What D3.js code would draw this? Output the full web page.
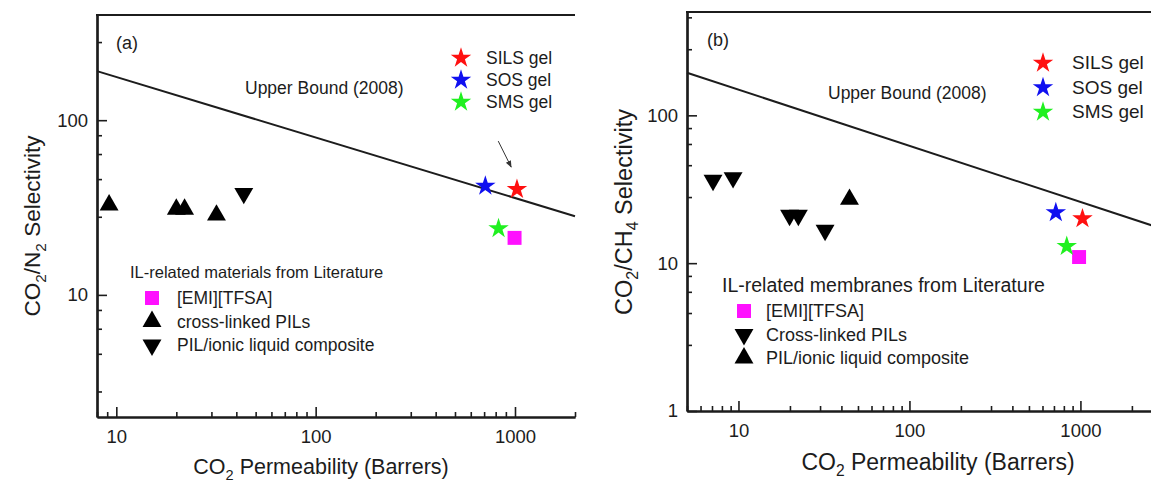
<!DOCTYPE html>
<html>
<head>
<meta charset="utf-8">
<script src="https://cdn.jsdelivr.net/npm/d3@7"></script>
<style>
  html, body { margin: 0; padding: 0; background: #fff; }
  svg { display: block; }
</style>
</head>
<body>
<svg id="chart" width="1151" height="483"></svg>
<script>
// ---------- data ----------
const gelNames = ["SILS gel", "SOS gel", "SMS gel"];

// (a) CO2/N2 separation
const gelPermA = [1023, 710, 827];
const gelSelA = [40.2, 42.0, 24.0];
const emiPermA = [995];
const emiSelA = [21.2];
const xlinkPermA = [9.2, 20.0, 22.0, 31.8];
const xlinkSelA = [32.7, 30.9, 30.9, 28.6];
const compPermA = [43.6];
const compSelA = [38.1];
const boundPermA = [8, 2000];
const boundSelA = [191, 28.2];
const arrowPermA = [824, 957];
const arrowSelA = [75.9, 53.9];

// (b) CO2/CH4 separation
const gelPermB = [1028, 718, 832];
const gelSelB = [20.0, 22.0, 13.0];
const emiPermB = [982];
const emiSelB = [11.0];
const xlinkPermB = [7.1, 9.3, 19.9, 22.4, 32.1];
const xlinkSelB = [36.4, 37.9, 21.1, 21.1, 16.7];
const compPermB = [44.6];
const compSelB = [27.0];
const boundPermB = [5, 3000];
const boundSelB = [194, 17.1];

// tick labels
const xTicksA = [10, 100, 1000];
const yTicksA = [10, 100];
const xTicksB = [10, 100, 1000];
const yTicksB = [1, 10, 100];

// ---------- drawing ----------
const FONT = '"Liberation Sans", Arial, Helvetica, sans-serif';
const INK = "#1c1c1c";
const gelColors = ["#ff1010", "#1010f0", "#20f020"];
const emiColor = "#ff10ff";

const svg = d3.select("#chart").attr("font-family", FONT);

svg.append("defs").append("marker")
  .attr("id", "arrowHead")
  .attr("viewBox", "0 0 10 10")
  .attr("refX", 9).attr("refY", 5)
  .attr("markerWidth", 7).attr("markerHeight", 7)
  .attr("markerUnits", "userSpaceOnUse")
  .attr("orient", "auto")
  .append("path").attr("d", "M0,1 L10,5 L0,9 Z").attr("fill", "#333");

const starSym = d3.symbol().type(d3.symbolStar).size(130);
const triSym = d3.symbol().type(d3.symbolTriangle).size(155);
const sqSym = d3.symbol().type(d3.symbolSquare).size(195);

function zip(a, b) { return a.map((v, i) => [v, b[i]]); }

// text with CO2-style subscripts; parts = [[string, isSubscript], ...]
function rich(sel, parts, size, subSize, shift) {
  sel.attr("font-size", size);
  parts.forEach(([t, sub], i) => {
    const ts = sel.append("tspan").text(t);
    if (sub) ts.attr("font-size", subSize).attr("dy", shift);
    else if (i > 0 && parts[i - 1][1]) ts.attr("dy", -shift);
  });
  return sel;
}

// minor ticks: 2..9 per decade on x, linear quarter steps on y
function minorLogX(dom) {
  const out = [];
  for (let e = Math.floor(Math.log10(dom[0])); e <= Math.ceil(Math.log10(dom[1])); e++) {
    for (let m = 2; m <= 9; m++) {
      const v = m * Math.pow(10, e);
      if (v >= dom[0] - 1e-9 && v <= dom[1] + 1e-9) out.push(v);
    }
  }
  return out;
}
function minorLinY(dom) {
  const out = [];
  for (let e = Math.floor(Math.log10(dom[0])); e <= Math.ceil(Math.log10(dom[1])); e++) {
    const d = Math.pow(10, e);
    for (let k = 1; k <= 4; k++) {
      const v = d * (1 + 1.8 * k);
      if (v >= dom[0] - 1e-9 && v <= dom[1] + 1e-9) out.push(v);
    }
  }
  return out;
}

function drawPanel(p) {
  const g = svg.append("g");
  const x = d3.scaleLog().domain(p.xDom).range(p.xRange);
  const y = d3.scaleLog().domain(p.yDom).range(p.yRange);
  const bottom = p.yRange[0], top = p.yRange[1];
  const left = p.xRange[0], right = p.xRange[1];

  // upper bound line
  g.append("path")
    .datum(zip(p.boundPerm, p.boundSel))
    .attr("d", d3.line().x(d => x(d[0])).y(d => y(d[1])))
    .attr("fill", "none").attr("stroke", INK).attr("stroke-width", 2);

  // axes
  const styleAxis = a => {
    a.selectAll("path.domain").attr("stroke", INK).attr("stroke-width", 2.2);
    a.selectAll(".tick line").attr("stroke", INK).attr("stroke-width", 1.6);
    a.selectAll(".tick text").attr("fill", INK).attr("font-family", FONT).attr("font-size", p.tickFont);
  };
  g.append("g").attr("transform", `translate(0,${bottom})`)
    .call(d3.axisBottom(x).tickValues(minorLogX(p.xDom)).tickSize(-5).tickSizeOuter(0).tickFormat(""))
    .call(styleAxis);
  g.append("g").attr("transform", `translate(0,${bottom})`)
    .call(d3.axisBottom(x).tickValues(p.xTicks).tickSize(-10).tickSizeOuter(0).tickPadding(13).tickFormat(d3.format("d")))
    .call(styleAxis);
  g.append("g").attr("transform", `translate(${left},0)`)
    .call(d3.axisLeft(y).tickValues(minorLinY(p.yDom)).tickSize(-5).tickSizeOuter(0).tickFormat(""))
    .call(styleAxis);
  g.append("g").attr("transform", `translate(${left},0)`)
    .call(d3.axisLeft(y).tickValues(p.yTicks).tickSize(-10).tickSizeOuter(0).tickPadding(9).tickFormat(d3.format("d")))
    .call(styleAxis);

  // top frame line
  g.append("line")
    .attr("x1", left - 1).attr("x2", right).attr("y1", top).attr("y2", top)
    .attr("stroke", INK).attr("stroke-width", 2.2);

  // axis titles
  g.append("text")
    .attr("x", p.xTitle[0]).attr("y", p.xTitle[1])
    .attr("text-anchor", "middle").attr("fill", INK)
    .call(rich, [["CO", false], ["2", true], [" Permeability (Barrers)", false]], p.titleFont, p.titleFont * 0.68, 6);
  g.append("text")
    .attr("transform", `translate(${p.yTitle[0]},${p.yTitle[1]}) rotate(-90)`)
    .attr("text-anchor", "middle").attr("fill", INK)
    .call(rich, p.yTitleParts, p.yTitleFont, p.yTitleFont * 0.68, 6);

  // panel tag and bound label
  g.append("text").attr("x", p.tag[0]).attr("y", p.tag[1])
    .attr("font-size", p.tagFont).attr("fill", INK).text(p.tagText);
  g.append("text").attr("x", p.boundLabel[0]).attr("y", p.boundLabel[1])
    .attr("font-size", 17.5).attr("fill", INK).text("Upper Bound (2008)");

  // literature points
  g.selectAll(null).data(zip(p.xlinkPerm, p.xlinkSel)).join("path")
    .attr("d", triSym)
    .attr("transform", d => `translate(${x(d[0])},${y(d[1])})${p.xlinkDown ? " rotate(180)" : ""}`)
    .attr("fill", "#000");
  g.selectAll(null).data(zip(p.compPerm, p.compSel)).join("path")
    .attr("d", triSym)
    .attr("transform", d => `translate(${x(d[0])},${y(d[1])})${p.xlinkDown ? "" : " rotate(180)"}`)
    .attr("fill", "#000");
  g.selectAll(null).data(zip(p.emiPerm, p.emiSel)).join("path")
    .attr("d", sqSym)
    .attr("transform", d => `translate(${x(d[0])},${y(d[1])})`)
    .attr("fill", emiColor);

  // gel membranes
  g.selectAll(null).data(zip(p.gelPerm, p.gelSel)).join("path")
    .attr("d", starSym)
    .attr("transform", d => `translate(${x(d[0])},${y(d[1])})`)
    .attr("fill", (d, i) => gelColors[i]);

  if (p.arrowPerm) {
    g.append("line")
      .attr("x1", x(p.arrowPerm[0])).attr("y1", y(p.arrowSel[0]))
      .attr("x2", x(p.arrowPerm[1])).attr("y2", y(p.arrowSel[1]))
      .attr("stroke", "#333").attr("stroke-width", 1)
      .attr("marker-end", "url(#arrowHead)");
  }

  // gel legend
  gelNames.forEach((name, i) => {
    const ly = p.gelLeg[1] + i * p.gelLeg[2];
    g.append("path").attr("d", starSym)
      .attr("transform", `translate(${p.gelLeg[0]},${ly})`).attr("fill", gelColors[i]);
    g.append("text").attr("x", p.gelLeg[0] + p.gelLeg[3]).attr("y", ly + 6)
      .attr("font-size", p.legFont).attr("fill", INK).text(name);
  });

  // literature legend
  g.append("text").attr("x", p.litTitle[0]).attr("y", p.litTitle[1])
    .attr("font-size", p.litTitleFont).attr("fill", INK).text(p.litTitleText);
  p.litItems.forEach((it, i) => {
    const ly = p.litLeg[1] + i * p.litLeg[2];
    const s = g.append("path").attr("transform", `translate(${p.litLeg[0]},${ly})${it.down ? " rotate(180)" : ""}`);
    if (it.kind === "square") s.attr("d", sqSym).attr("fill", emiColor);
    else s.attr("d", triSym).attr("fill", "#000");
    g.append("text").attr("x", p.litLeg[0] + p.litLeg[3]).attr("y", ly + 6)
      .attr("font-size", p.litFont).attr("fill", INK).text(it.label);
  });
}

drawPanel({
  xDom: [8, 2000], xRange: [97, 575],
  yDom: [2, 400], yRange: [417, 15],
  xTicks: xTicksA, yTicks: yTicksA,
  tickFont: 18.5, titleFont: 21.5, yTitleFont: 22.5, tagFont: 18,
  xTitle: [321, 474],
  yTitle: [40, 226],
  yTitleParts: [["CO", false], ["2", true], ["/N", false], ["2", true], [" Selectivity", false]],
  tag: [116, 49], tagText: "(a)",
  boundLabel: [245, 94],
  boundPerm: boundPermA, boundSel: boundSelA,
  gelPerm: gelPermA, gelSel: gelSelA,
  emiPerm: emiPermA, emiSel: emiSelA,
  xlinkPerm: xlinkPermA, xlinkSel: xlinkSelA, xlinkDown: false,
  compPerm: compPermA, compSel: compSelA,
  arrowPerm: arrowPermA, arrowSel: arrowSelA,
  gelLeg: [461, 58, 22, 25], legFont: 17.5,
  litTitle: [130, 278], litTitleFont: 16.5, litTitleText: "IL-related materials from Literature",
  litLeg: [152, 298, 23.5, 25], litFont: 17.5,
  litItems: [
    { kind: "square", label: "[EMI][TFSA]" },
    { kind: "tri", down: false, label: "cross-linked PILs" },
    { kind: "tri", down: true, label: "PIL/ionic liquid composite" }
  ]
});

drawPanel({
  xDom: [5, 3000], xRange: [687, 1162],
  yDom: [1, 500], yRange: [411, 12],
  xTicks: xTicksB, yTicks: yTicksB,
  tickFont: 18.5, titleFont: 23, yTitleFont: 23.5, tagFont: 18,
  xTitle: [938, 470],
  yTitle: [632, 212],
  yTitleParts: [["CO", false], ["2", true], ["/CH", false], ["4", true], [" Selectivity", false]],
  tag: [707, 46], tagText: "(b)",
  boundLabel: [828, 99],
  boundPerm: boundPermB, boundSel: boundSelB,
  gelPerm: gelPermB, gelSel: gelSelB,
  emiPerm: emiPermB, emiSel: emiSelB,
  xlinkPerm: xlinkPermB, xlinkSel: xlinkSelB, xlinkDown: true,
  compPerm: compPermB, compSel: compSelB,
  gelLeg: [1043, 63, 24.5, 29], legFont: 19,
  litTitle: [722, 292], litTitleFont: 19.5, litTitleText: "IL-related membranes from Literature",
  litLeg: [744, 311, 23.5, 22], litFont: 18,
  litItems: [
    { kind: "square", label: "[EMI][TFSA]" },
    { kind: "tri", down: true, label: "Cross-linked PILs" },
    { kind: "tri", down: false, label: "PIL/ionic liquid composite" }
  ]
});
</script>
</body>
</html>
